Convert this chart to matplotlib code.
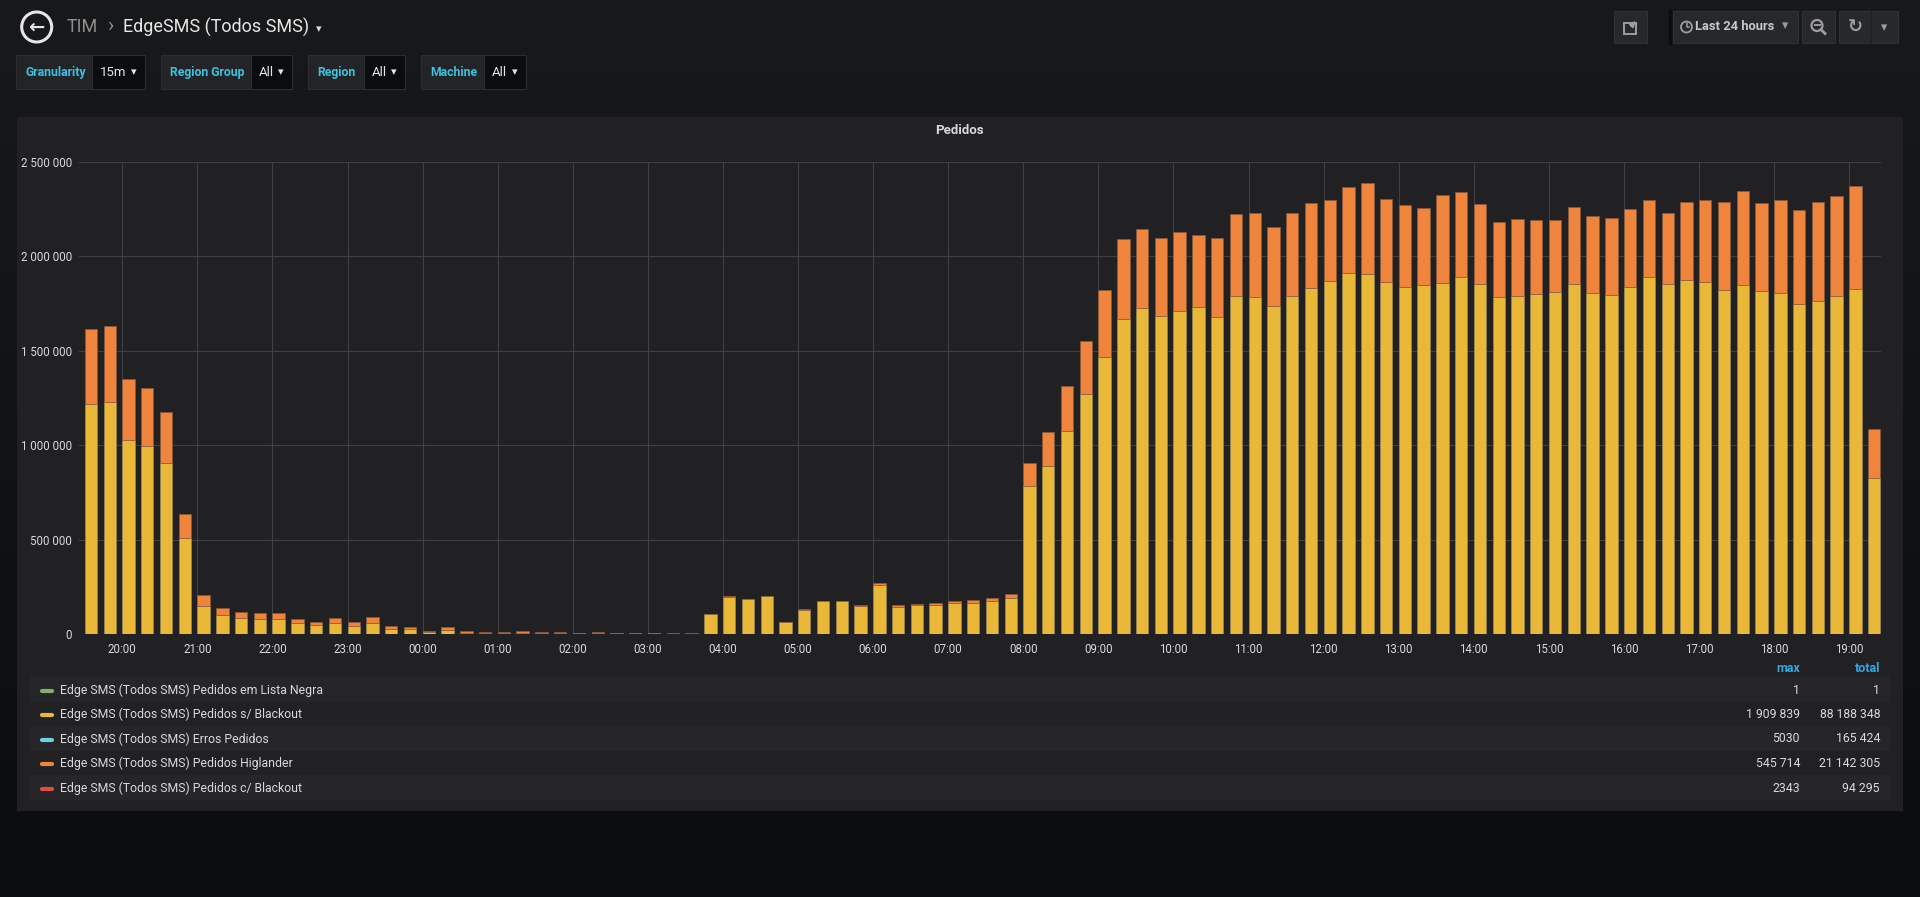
import datetime as dt
import matplotlib
matplotlib.use("Agg")
import matplotlib.pyplot as plt
import matplotlib.dates as mdates
from matplotlib.patches import Rectangle, Circle
from matplotlib.colors import LinearSegmentedColormap
from matplotlib.ticker import FuncFormatter, MultipleLocator
import numpy as np
import pandas as pd

plt.rcParams['font.family'] = ['Roboto', 'DejaVu Sans']

W, H = 1920, 897

# Pedidos por intervalo de 15 min (milhares), de 19:30 ate 19:15 do dia seguinte
inicio = dt.datetime(2018, 5, 14, 19, 30)

s_blackout_k = [
    1220, 1231, 1029, 997, 908, 509,
    152, 101, 85, 79, 79, 58, 48, 58,
    42, 58, 30, 26, 11, 25, 9, 7,
    6, 7, 6, 6, 5, 7, 6, 5,
    5, 4, 4, 106, 199, 186, 203, 66,
    131, 175, 175, 152, 263, 146, 153, 156,
    165, 167, 177, 194, 783, 890, 1077, 1271,
    1469, 1670, 1725, 1683, 1711, 1734, 1677, 1790,
    1787, 1736, 1789, 1834, 1868, 1910, 1907, 1863,
    1836, 1848, 1861, 1891, 1854, 1783, 1790, 1799,
    1810, 1852, 1804, 1794, 1840, 1891, 1852, 1875,
    1864, 1824, 1848, 1817, 1806, 1748, 1766, 1790,
    1827, 828,
]

higlander_k = [
    394, 403, 323, 307, 270, 126,
    54, 39, 34, 34, 33, 23, 16, 28,
    22, 34, 12, 11, 8, 12, 9, 7,
    6, 8, 5, 5, 4, 5, 3, 2,
    2, 1, 1, 2, 2, 2, 1, 1,
    1, 1, 1, 1, 6, 8, 10, 9,
    11, 12, 13, 19, 124, 183, 237, 281,
    351, 424, 420, 414, 416, 379, 420, 435,
    443, 421, 439, 447, 429, 459, 482, 441,
    438, 407, 462, 450, 426, 397, 408, 396,
    381, 408, 412, 411, 411, 409, 378, 411,
    433, 462, 498, 466, 494, 500, 524, 532,
    546, 258,
]

legend_names = [
    "Edge SMS (Todos SMS) Pedidos em Lista Negra",
    "Edge SMS (Todos SMS) Pedidos s/ Blackout",
    "Edge SMS (Todos SMS) Erros Pedidos",
    "Edge SMS (Todos SMS) Pedidos Higlander",
    "Edge SMS (Todos SMS) Pedidos c/ Blackout",
]
legend_colors = ["#7EB26D", "#EAB839", "#6ED0E0", "#EF843C", "#E24D42"]
legend_max = ["1", "1 909 839", "5030", "545 714", "2343"]
legend_total = ["1", "88 188 348", "165 424", "21 142 305", "94 295"]

variables = [("Granularity", "15m"), ("Region Group", "All"), ("Region", "All"), ("Machine", "All")]

TXT = "#d8d9da"

fig = plt.figure(figsize=(W / 100, H / 100), dpi=100)

# camada de fundo em coordenadas de pixel (origem no topo)
base = fig.add_axes([0, 0, 1, 1], zorder=0)
base.set_xlim(0, W)
base.set_ylim(H, 0)
base.axis("off")
grad = LinearSegmentedColormap.from_list("bg", ["#18191b", "#0b0c0e"])
base.imshow(np.linspace(0, 1, 256).reshape(-1, 1), extent=[0, W, H, 0], cmap=grad, aspect="auto", zorder=0)

# cabecalho
base.add_patch(Circle((36.7, 27), 15, fill=False, ec="#e6e6e6", lw=2.2, zorder=2))
base.text(36.7, 27.5, "←", color="#e6e6e6", fontsize=14, fontweight="bold", ha="center", va="center",
          family=["DejaVu Sans"], zorder=3)
base.text(67, 27, "TIM", color="#8e8e8e", fontsize=13, ha="left", va="center", zorder=3)
base.text(110, 27, "›", color="#8e8e8e", fontsize=15, ha="center", va="center", zorder=3)
base.text(123, 27, "EdgeSMS (Todos SMS)", color="#e6e6e6", fontsize=13, ha="left", va="center", zorder=3)
base.text(319, 29, "▾", color="#d8d9da", fontsize=8, ha="center", va="center", family=["DejaVu Sans"], zorder=3)

# botoes do canto direito
def botao(x0, x1, y0=11, y1=43):
    base.add_patch(Rectangle((x0, y0), x1 - x0, y1 - y0, fc="#27282b", ec="#303135", lw=0.8, zorder=2))

botao(1614, 1647)
base.add_patch(Rectangle((1624, 23), 12, 11, fill=False, ec="#9d9d9d", lw=1.4, zorder=3))
base.annotate("", xy=(1638, 19), xytext=(1629, 28),
              arrowprops=dict(arrowstyle="-|>", color="#9d9d9d", lw=1.4, mutation_scale=8), zorder=4)
base.plot([1670, 1670], [11, 43], color="#0b0c0e", lw=2.5, zorder=2)
botao(1673, 1798)
base.add_patch(Circle((1686.5, 27), 5.5, fill=False, ec="#9d9d9d", lw=1.3, zorder=3))
base.plot([1686.5, 1686.5, 1689], [23.5, 27.5, 27.5], color="#9d9d9d", lw=1.1, zorder=3)
base.text(1695, 27, "Last 24 hours", color="#c8c8c8", fontsize=9.3, fontweight="bold", ha="left", va="center", zorder=3)
base.text(1785, 26, "▾", color="#9d9d9d", fontsize=9, ha="center", va="center", family=["DejaVu Sans"], zorder=3)
botao(1802, 1835)
base.add_patch(Circle((1817, 25.5), 5.5, fill=False, ec="#9d9d9d", lw=1.6, zorder=3))
base.plot([1814.5, 1819.5], [25.5, 25.5], color="#9d9d9d", lw=1.4, zorder=3)
base.plot([1821, 1825], [29.5, 33.5], color="#9d9d9d", lw=2, zorder=3)
botao(1839, 1898)
base.plot([1870.5, 1870.5], [11, 43], color="#1f2023", lw=1, zorder=3)
base.text(1855, 27, "↻", color="#9d9d9d", fontsize=13, fontweight="bold", ha="center", va="center",
          family=["DejaVu Sans"], zorder=3)
base.text(1884, 28, "▾", color="#9d9d9d", fontsize=9, ha="center", va="center", family=["DejaVu Sans"], zorder=3)

# variaveis do template
caixas = [(16, 92, 145), (161, 251, 292), (308, 364, 405), (421, 484, 526)]
for (rotulo, valor), (x0, xs, x1) in zip(variables, caixas):
    base.add_patch(Rectangle((x0, 55), xs - x0, 34, fc="#232428", ec="#2c2d31", lw=0.8, zorder=2))
    base.add_patch(Rectangle((xs, 55), x1 - xs, 34, fc="#0b0c0e", ec="#2c2d31", lw=0.8, zorder=2))
    base.text(x0 + 9, 72.5, rotulo, color="#3cc2dc", fontsize=8.8, fontweight="bold", ha="left", va="center", zorder=3)
    base.text(xs + 8, 73, valor, color="#e6e6e6", fontsize=9.5, ha="left", va="center", zorder=3)
    base.text(x1 - 11, 72, "▾", color="#e6e6e6", fontsize=8, ha="center", va="center",
              family=["DejaVu Sans"], zorder=3)

# painel
base.add_patch(Rectangle((16.7, 116.7), 1886, 694.3, fc="#212124", ec="none", zorder=1))
base.text(959, 131, "Pedidos", color=TXT, fontsize=9.5, fontweight="bold", ha="center", va="center", zorder=3)

# legenda em tabela
base.text(1800, 669, "max", color="#33a8e0", fontsize=9, fontweight="bold", ha="right", va="center", zorder=3)
base.text(1880, 669, "total", color="#33a8e0", fontsize=9, fontweight="bold", ha="right", va="center", zorder=3)
linhas_y = [690, 714.5, 739, 763.5, 788]
for i, (nome, cor, mx, tot) in enumerate(zip(legend_names, legend_colors, legend_max, legend_total)):
    y = linhas_y[i]
    if i % 2 == 0:
        base.add_patch(Rectangle((30, y - 12.5), 1860, 25, fc="#262629", ec="none", zorder=2))
    base.plot([42, 52], [y + 1, y + 1], color=cor, lw=3, solid_capstyle="round", zorder=3)
    base.text(60, y, nome, color=TXT, fontsize=8.8, ha="left", va="center", zorder=3)
    base.text(1800, y, mx, color=TXT, fontsize=8.8, ha="right", va="center", zorder=3)
    base.text(1880, y, tot, color=TXT, fontsize=8.8, ha="right", va="center", zorder=3)

# grafico de barras empilhadas
x0p, x1p, y_top, y_bot = 79, 1881, 162, 634.3
ax = fig.add_axes([x0p / W, 1 - y_bot / H, (x1p - x0p) / W, (y_bot - y_top) / H], zorder=2)
ax.set_facecolor("none")

tempos = pd.date_range(inicio, periods=len(s_blackout_k), freq="15min")
xs = mdates.date2num(tempos.to_pydatetime())
amarelo = np.array(s_blackout_k) * 1000
laranja = np.array(higlander_k) * 1000
largura = 9.9 / 1440

ax.bar(xs, amarelo, largura, align="edge", color="#EAB839", edgecolor="#9a8a52", linewidth=0.5, zorder=3)
ax.bar(xs, laranja, largura, bottom=amarelo, align="edge", color="#EF843C", edgecolor="#8a5a3c",
       linewidth=0.5, zorder=3)

esq = mdates.date2num(inicio - dt.timedelta(minutes=4.6))
ax.set_xlim(esq, esq + 1.0)
ax.set_ylim(0, 2500000)
ax.xaxis.set_major_locator(mdates.HourLocator())
ax.xaxis.set_major_formatter(mdates.DateFormatter("%H:%M"))
ax.yaxis.set_major_locator(MultipleLocator(500000))
ax.yaxis.set_major_formatter(FuncFormatter(lambda v, p: f"{int(v):,}".replace(",", " ")))
ax.grid(True, color="#404044", linewidth=0.8)
ax.set_axisbelow(True)
ax.tick_params(length=0, colors=TXT, labelsize=8.3)
ax.tick_params(axis="x", pad=6)
ax.tick_params(axis="y", pad=5)
for s in ax.spines.values():
    s.set_visible(False)

fig.savefig("out.png", dpi=100, facecolor="#161719")
